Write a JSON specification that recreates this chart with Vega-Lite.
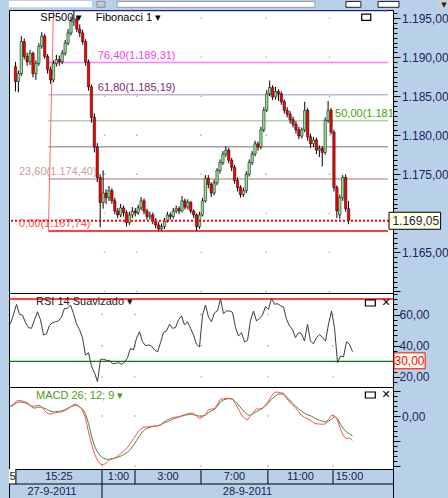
{
  "$schema": "https://vega.github.io/schema/vega-lite/v6.json",
  "background": "#b9d1e8",
  "padding": {"left": 7, "top": 0, "right": 0, "bottom": 0},
  "bounds": "flush",
  "spacing": 0,
  "resolve": {"scale": {"stroke": "independent", "fill": "independent"}},
  "config": {
    "view": {"stroke": "#000000", "strokeWidth": 1, "fill": "#ffffff"},
    "font": "Liberation Sans",
    "text": {"font": "Liberation Sans", "fontSize": 11}
  },
  "datasets": {
    "bars": [
      {"i":0,"o":1188.8,"h":1189.4,"l":1185.6,"c":1186.86,"rsi":54.1,"macd":0.40,"sig":0.37},
      {"i":1,"o":1186.9,"h":1188.3,"l":1185.5,"c":1187.9,"rsi":60.2,"macd":0.47,"sig":0.44},
      {"i":2,"o":1187.9,"h":1192.7,"l":1187.6,"c":1192.0,"rsi":66.6,"macd":0.60,"sig":0.52},
      {"i":3,"o":1192.0,"h":1192.4,"l":1189.7,"c":1190.1,"rsi":60.2,"macd":0.63,"sig":0.56},
      {"i":4,"o":1190.1,"h":1190.6,"l":1188.9,"c":1189.4,"rsi":59.7,"macd":0.60,"sig":0.55},
      {"i":5,"o":1189.4,"h":1190.9,"l":1189.0,"c":1190.5,"rsi":54.8,"macd":0.56,"sig":0.52},
      {"i":6,"o":1190.5,"h":1190.7,"l":1187.4,"c":1187.9,"rsi":51.6,"macd":0.49,"sig":0.47},
      {"i":7,"o":1187.9,"h":1189.6,"l":1187.1,"c":1189.2,"rsi":51.2,"macd":0.40,"sig":0.37},
      {"i":8,"o":1189.2,"h":1191.8,"l":1188.9,"c":1191.4,"rsi":56.7,"macd":0.39,"sig":0.31},
      {"i":9,"o":1191.4,"h":1193.2,"l":1191.1,"c":1192.7,"rsi":61.8,"macd":0.43,"sig":0.35},
      {"i":10,"o":1192.7,"h":1193.0,"l":1189.8,"c":1190.1,"rsi":56.7,"macd":0.40,"sig":0.36},
      {"i":11,"o":1190.1,"h":1190.4,"l":1187.9,"c":1188.4,"rsi":46.9,"macd":0.27,"sig":0.32},
      {"i":12,"o":1188.4,"h":1188.8,"l":1186.6,"c":1187.1,"rsi":47.7,"macd":0.13,"sig":0.27},
      {"i":13,"o":1187.1,"h":1189.6,"l":1186.8,"c":1189.2,"rsi":53.1,"macd":0.08,"sig":0.21},
      {"i":14,"o":1189.2,"h":1190.3,"l":1188.8,"c":1189.7,"rsi":54.8,"macd":0.09,"sig":0.17},
      {"i":15,"o":1189.7,"h":1190.2,"l":1188.9,"c":1189.4,"rsi":55.4,"macd":0.13,"sig":0.17},
      {"i":16,"o":1189.4,"h":1190.9,"l":1189.1,"c":1190.5,"rsi":55.9,"macd":0.15,"sig":0.19},
      {"i":17,"o":1190.5,"h":1192.2,"l":1190.2,"c":1191.8,"rsi":58.4,"macd":0.16,"sig":0.20},
      {"i":18,"o":1191.8,"h":1193.6,"l":1191.5,"c":1193.1,"rsi":64.0,"macd":0.21,"sig":0.24},
      {"i":19,"o":1193.1,"h":1195.2,"l":1192.8,"c":1194.6,"rsi":64.0,"macd":0.28,"sig":0.31},
      {"i":20,"o":1194.6,"h":1195.96,"l":1194.0,"c":1194.9,"rsi":66.1,"macd":0.35,"sig":0.37},
      {"i":21,"o":1194.9,"h":1195.3,"l":1193.2,"c":1193.6,"rsi":60.6,"macd":0.47,"sig":0.41},
      {"i":22,"o":1193.6,"h":1194.2,"l":1192.6,"c":1193.1,"rsi":54.1,"macd":0.47,"sig":0.43},
      {"i":23,"o":1193.1,"h":1193.5,"l":1191.6,"c":1192.0,"rsi":50.3,"macd":0.37,"sig":0.37},
      {"i":24,"o":1192.0,"h":1192.3,"l":1188.9,"c":1189.4,"rsi":45.2,"macd":0.24,"sig":0.28},
      {"i":25,"o":1189.4,"h":1189.7,"l":1185.7,"c":1186.2,"rsi":34.0,"macd":-0.08,"sig":0.09},
      {"i":26,"o":1186.2,"h":1186.5,"l":1181.6,"c":1182.3,"rsi":35.5,"macd":-0.64,"sig":-0.29},
      {"i":27,"o":1182.3,"h":1182.8,"l":1177.8,"c":1178.5,"rsi":26.8,"macd":-1.13,"sig":-0.80},
      {"i":28,"o":1178.5,"h":1179.0,"l":1174.0,"c":1174.6,"rsi":22.7,"macd":-1.51,"sig":-1.20},
      {"i":29,"o":1174.6,"h":1175.0,"l":1168.2,"c":1171.4,"rsi":16.9,"macd":-1.77,"sig":-1.44},
      {"i":30,"o":1171.4,"h":1175.5,"l":1170.6,"c":1172.6,"rsi":31.3,"macd":-1.93,"sig":-1.60},
      {"i":31,"o":1172.6,"h":1173.1,"l":1171.2,"c":1172.0,"rsi":31.3,"macd":-1.95,"sig":-1.69},
      {"i":32,"o":1172.0,"h":1173.5,"l":1171.6,"c":1172.9,"rsi":30.6,"macd":-1.87,"sig":-1.73},
      {"i":33,"o":1172.9,"h":1173.2,"l":1171.2,"c":1171.6,"rsi":30.6,"macd":-1.75,"sig":-1.73},
      {"i":34,"o":1171.6,"h":1172.0,"l":1169.9,"c":1170.3,"rsi":28.5,"macd":-1.71,"sig":-1.71},
      {"i":35,"o":1170.3,"h":1170.7,"l":1169.4,"c":1169.8,"rsi":28.7,"macd":-1.67,"sig":-1.68},
      {"i":36,"o":1169.8,"h":1171.2,"l":1169.5,"c":1170.7,"rsi":29.1,"macd":-1.57,"sig":-1.64},
      {"i":37,"o":1170.7,"h":1171.0,"l":1169.6,"c":1170.1,"rsi":28.1,"macd":-1.48,"sig":-1.59},
      {"i":38,"o":1170.1,"h":1170.4,"l":1168.3,"c":1168.8,"rsi":29.4,"macd":-1.37,"sig":-1.53},
      {"i":39,"o":1168.8,"h":1170.2,"l":1168.5,"c":1169.8,"rsi":32.3,"macd":-1.25,"sig":-1.45},
      {"i":40,"o":1169.8,"h":1170.8,"l":1169.4,"c":1170.3,"rsi":38.3,"macd":-1.09,"sig":-1.33},
      {"i":41,"o":1170.3,"h":1170.7,"l":1169.6,"c":1170.1,"rsi":37.3,"macd":-0.91,"sig":-1.17},
      {"i":42,"o":1170.1,"h":1171.1,"l":1169.8,"c":1170.7,"rsi":44.8,"macd":-0.73,"sig":-0.99},
      {"i":43,"o":1170.7,"h":1172.1,"l":1170.4,"c":1171.6,"rsi":49.0,"macd":-0.56,"sig":-0.80},
      {"i":44,"o":1171.6,"h":1171.9,"l":1169.9,"c":1170.3,"rsi":42.6,"macd":-0.47,"sig":-0.63},
      {"i":45,"o":1170.3,"h":1170.6,"l":1169.2,"c":1169.6,"rsi":40.0,"macd":-0.44,"sig":-0.53},
      {"i":46,"o":1169.6,"h":1170.2,"l":1169.2,"c":1169.8,"rsi":40.5,"macd":-0.43,"sig":-0.47},
      {"i":47,"o":1169.8,"h":1170.1,"l":1168.6,"c":1169.0,"rsi":39.8,"macd":-0.41,"sig":-0.43},
      {"i":48,"o":1169.0,"h":1169.4,"l":1168.1,"c":1168.5,"rsi":37.3,"macd":-0.41,"sig":-0.40},
      {"i":49,"o":1168.5,"h":1168.9,"l":1167.74,"c":1168.0,"rsi":36.0,"macd":-0.40,"sig":-0.39},
      {"i":50,"o":1168.0,"h":1168.7,"l":1167.8,"c":1168.3,"rsi":41.9,"macd":-0.35,"sig":-0.36},
      {"i":51,"o":1168.3,"h":1169.4,"l":1168.0,"c":1169.0,"rsi":48.6,"macd":-0.25,"sig":-0.29},
      {"i":52,"o":1169.0,"h":1170.2,"l":1168.8,"c":1169.8,"rsi":49.5,"macd":-0.17,"sig":-0.24},
      {"i":53,"o":1169.8,"h":1170.1,"l":1169.2,"c":1169.6,"rsi":53.8,"macd":-0.12,"sig":-0.19},
      {"i":54,"o":1169.6,"h":1170.7,"l":1169.3,"c":1170.3,"rsi":51.2,"macd":-0.07,"sig":-0.13},
      {"i":55,"o":1170.3,"h":1171.0,"l":1170.0,"c":1170.6,"rsi":51.6,"macd":-0.04,"sig":-0.09},
      {"i":56,"o":1170.6,"h":1170.9,"l":1169.9,"c":1170.3,"rsi":56.7,"macd":-0.03,"sig":-0.05},
      {"i":57,"o":1170.3,"h":1172.2,"l":1170.1,"c":1171.6,"rsi":59.1,"macd":0.01,"sig":-0.01},
      {"i":58,"o":1171.6,"h":1171.9,"l":1170.5,"c":1170.8,"rsi":53.3,"macd":0.05,"sig":0.03},
      {"i":59,"o":1170.8,"h":1171.8,"l":1170.5,"c":1171.4,"rsi":55.4,"macd":0.09,"sig":0.05},
      {"i":60,"o":1171.4,"h":1171.6,"l":1170.0,"c":1170.3,"rsi":51.2,"macd":0.12,"sig":0.07},
      {"i":61,"o":1170.3,"h":1170.5,"l":1169.4,"c":1169.8,"rsi":46.9,"macd":0.11,"sig":0.05},
      {"i":62,"o":1169.8,"h":1170.0,"l":1167.74,"c":1168.3,"rsi":40.9,"macd":0.01,"sig":0.03},
      {"i":63,"o":1168.3,"h":1170.2,"l":1168.0,"c":1169.8,"rsi":39.2,"macd":-0.11,"sig":-0.01},
      {"i":64,"o":1169.8,"h":1172.0,"l":1169.6,"c":1171.6,"rsi":59.7,"macd":-0.04,"sig":0.00},
      {"i":65,"o":1171.6,"h":1174.9,"l":1171.4,"c":1174.5,"rsi":66.1,"macd":0.07,"sig":0.04},
      {"i":66,"o":1174.5,"h":1174.9,"l":1173.2,"c":1173.7,"rsi":58.4,"macd":0.25,"sig":0.13},
      {"i":67,"o":1173.7,"h":1174.0,"l":1172.1,"c":1172.6,"rsi":55.4,"macd":0.28,"sig":0.21},
      {"i":68,"o":1172.6,"h":1174.3,"l":1172.3,"c":1173.9,"rsi":61.2,"macd":0.29,"sig":0.27},
      {"i":69,"o":1173.9,"h":1175.8,"l":1173.6,"c":1175.5,"rsi":62.3,"macd":0.47,"sig":0.40},
      {"i":70,"o":1175.5,"h":1176.9,"l":1175.1,"c":1176.5,"rsi":70.0,"macd":0.67,"sig":0.57},
      {"i":71,"o":1176.5,"h":1178.0,"l":1176.2,"c":1177.6,"rsi":60.6,"macd":0.69,"sig":0.64},
      {"i":72,"o":1177.6,"h":1178.6,"l":1177.2,"c":1178.1,"rsi":62.3,"macd":0.71,"sig":0.68},
      {"i":73,"o":1178.1,"h":1178.4,"l":1176.4,"c":1176.8,"rsi":62.3,"macd":0.71,"sig":0.69},
      {"i":74,"o":1176.8,"h":1177.1,"l":1175.4,"c":1175.9,"rsi":61.5,"macd":0.68,"sig":0.68},
      {"i":75,"o":1175.9,"h":1176.2,"l":1173.8,"c":1174.2,"rsi":51.6,"macd":0.49,"sig":0.57},
      {"i":76,"o":1174.2,"h":1174.6,"l":1172.8,"c":1173.3,"rsi":46.2,"macd":0.28,"sig":0.45},
      {"i":77,"o":1173.3,"h":1173.6,"l":1172.0,"c":1172.4,"rsi":48.4,"macd":0.04,"sig":0.29},
      {"i":78,"o":1172.4,"h":1173.3,"l":1172.1,"c":1172.9,"rsi":42.4,"macd":-0.09,"sig":0.16},
      {"i":79,"o":1172.9,"h":1175.4,"l":1172.6,"c":1175.0,"rsi":43.5,"macd":-0.16,"sig":0.05},
      {"i":80,"o":1175.0,"h":1176.9,"l":1174.7,"c":1176.5,"rsi":56.3,"macd":0.00,"sig":0.03},
      {"i":81,"o":1176.5,"h":1178.0,"l":1176.2,"c":1177.6,"rsi":62.3,"macd":0.16,"sig":0.11},
      {"i":82,"o":1177.6,"h":1179.3,"l":1177.3,"c":1178.9,"rsi":55.9,"macd":0.29,"sig":0.17},
      {"i":83,"o":1178.9,"h":1179.2,"l":1178.0,"c":1178.5,"rsi":57.6,"macd":0.28,"sig":0.24},
      {"i":84,"o":1178.5,"h":1181.1,"l":1178.2,"c":1180.7,"rsi":59.7,"macd":0.29,"sig":0.32},
      {"i":85,"o":1180.7,"h":1183.6,"l":1180.4,"c":1183.2,"rsi":65.1,"macd":0.44,"sig":0.40},
      {"i":86,"o":1183.2,"h":1185.8,"l":1183.0,"c":1185.3,"rsi":63.4,"macd":0.60,"sig":0.53},
      {"i":87,"o":1185.3,"h":1187.0,"l":1185.0,"c":1186.1,"rsi":70.4,"macd":0.80,"sig":0.67},
      {"i":88,"o":1186.1,"h":1186.4,"l":1184.5,"c":1184.9,"rsi":66.6,"macd":0.95,"sig":0.77},
      {"i":89,"o":1184.9,"h":1186.2,"l":1184.6,"c":1185.6,"rsi":67.0,"macd":0.96,"sig":0.87},
      {"i":90,"o":1185.6,"h":1185.9,"l":1184.4,"c":1185.3,"rsi":65.7,"macd":0.93,"sig":0.88},
      {"i":91,"o":1185.3,"h":1185.6,"l":1183.9,"c":1184.3,"rsi":64.9,"macd":0.91,"sig":0.87},
      {"i":92,"o":1184.3,"h":1184.6,"l":1182.8,"c":1183.2,"rsi":57.0,"macd":0.71,"sig":0.77},
      {"i":93,"o":1183.2,"h":1183.6,"l":1182.3,"c":1182.7,"rsi":52.7,"macd":0.56,"sig":0.64},
      {"i":94,"o":1182.7,"h":1183.1,"l":1181.5,"c":1182.0,"rsi":50.5,"macd":0.45,"sig":0.51},
      {"i":95,"o":1182.0,"h":1182.4,"l":1181.0,"c":1181.4,"rsi":45.2,"macd":0.33,"sig":0.40},
      {"i":96,"o":1181.4,"h":1181.8,"l":1180.2,"c":1180.7,"rsi":48.4,"macd":0.17,"sig":0.29},
      {"i":97,"o":1180.7,"h":1181.1,"l":1179.5,"c":1179.9,"rsi":47.7,"macd":0.03,"sig":0.19},
      {"i":98,"o":1179.9,"h":1181.0,"l":1179.6,"c":1180.7,"rsi":43.0,"macd":-0.05,"sig":0.11},
      {"i":99,"o":1180.7,"h":1184.3,"l":1180.4,"c":1183.2,"rsi":53.8,"macd":-0.11,"sig":0.05},
      {"i":100,"o":1183.2,"h":1183.5,"l":1179.3,"c":1179.8,"rsi":43.0,"macd":-0.17,"sig":0.01},
      {"i":101,"o":1179.8,"h":1180.2,"l":1178.4,"c":1178.9,"rsi":41.3,"macd":-0.27,"sig":-0.05},
      {"i":102,"o":1178.9,"h":1179.8,"l":1178.5,"c":1179.4,"rsi":45.2,"macd":-0.31,"sig":-0.12},
      {"i":103,"o":1179.4,"h":1179.7,"l":1177.6,"c":1178.1,"rsi":47.3,"macd":-0.32,"sig":-0.17},
      {"i":104,"o":1178.1,"h":1178.7,"l":1177.2,"c":1178.3,"rsi":45.2,"macd":-0.33,"sig":-0.21},
      {"i":105,"o":1178.3,"h":1178.6,"l":1176.0,"c":1177.8,"rsi":43.0,"macd":-0.32,"sig":-0.24},
      {"i":106,"o":1177.8,"h":1182.3,"l":1177.5,"c":1181.9,"rsi":53.8,"macd":-0.13,"sig":-0.21},
      {"i":107,"o":1181.9,"h":1184.4,"l":1181.6,"c":1183.2,"rsi":62.3,"macd":0.03,"sig":-0.13},
      {"i":108,"o":1183.2,"h":1183.5,"l":1180.1,"c":1180.4,"rsi":51.6,"macd":0.01,"sig":-0.03},
      {"i":109,"o":1180.4,"h":1180.7,"l":1172.8,"c":1173.3,"rsi":29.1,"macd":-0.17,"sig":-0.11},
      {"i":110,"o":1173.3,"h":1173.6,"l":1169.4,"c":1170.3,"rsi":33.4,"macd":-0.53,"sig":-0.33},
      {"i":111,"o":1169.8,"h":1172.4,"l":1169.3,"c":1172.0,"rsi":32.8,"macd":-0.80,"sig":-0.51},
      {"i":112,"o":1172.0,"h":1174.9,"l":1171.6,"c":1174.6,"rsi":42.6,"macd":-0.92,"sig":-0.64},
      {"i":113,"o":1174.6,"h":1175.0,"l":1170.2,"c":1170.6,"rsi":40.9,"macd":-0.87,"sig":-0.72},
      {"i":114,"o":1170.6,"h":1171.6,"l":1168.6,"c":1169.05,"rsi":36.2,"macd":-0.97,"sig":-0.80}
    ],
    "fib": [
      {"pct":100,"price":1195.96},
      {"pct":76.4,"price":1189.31},
      {"pct":61.8,"price":1185.19},
      {"pct":50,"price":1181.85},
      {"pct":38.2,"price":1178.52},
      {"pct":23.6,"price":1174.40},
      {"pct":0,"price":1167.74}
    ],
    "rsiLevels": [{"level":70},{"level":30}],
    "cells": [
      {"row":1,"t0":1.8,"t1":30.5,"label":"15:25"},
      {"row":1,"t0":30.5,"t1":41.5,"label":"1:00"},
      {"row":1,"t0":41.5,"t1":63.5,"label":"3:00"},
      {"row":1,"t0":63.5,"t1":85.8,"label":"7:00"},
      {"row":1,"t0":85.8,"t1":107.5,"label":"11:00"},
      {"row":1,"t0":107.5,"t1":118.5,"label":"15:00"},
      {"row":2,"t0":-2.8,"t1":30.5,"label":"27-9-2011"},
      {"row":2,"t0":30.5,"t1":127.5,"label":"28-9-2011"}
    ]
  },
  "vconcat": [
    {
      "width": 384,
      "height": 9,
      "view": {"fill": "transparent", "stroke": null},
      "layer": [
        {
          "data": {"values": [{}]},
          "mark": {"type": "rect", "fill": "#ffffff"},
          "encoding": {
            "x": {"datum": -0.5, "type": "quantitative", "scale": {"domain": [-0.5, 127.5], "nice": false, "zero": false}, "axis": null},
            "x2": {"datum": 27.17},
            "y": {"datum": 1, "type": "quantitative", "scale": {"domain": [0, 1], "nice": false, "zero": false}, "axis": null},
            "y2": {"datum": 0.3}
          }
        },
        {
          "data": {"values": [{}]},
          "mark": {"type": "rect", "fill": "#c8c8c8", "stroke": "#808080", "strokeWidth": 0.8},
          "encoding": {
            "x": {"datum": 28.8, "type": "quantitative", "scale": {"domain": [-0.5, 127.5], "nice": false, "zero": false}, "axis": null},
            "x2": {"datum": 31.5},
            "y": {"datum": 0.95, "type": "quantitative", "scale": {"domain": [0, 1], "nice": false, "zero": false}, "axis": null},
            "y2": {"datum": 0.3}
          }
        },
        {
          "data": {"values": [{}]},
          "mark": {"type": "rect", "fill": "#ffffff", "stroke": "#9a9a9a", "strokeWidth": 1},
          "encoding": {
            "x": {"datum": 35.5, "type": "quantitative", "scale": {"domain": [-0.5, 127.5], "nice": false, "zero": false}, "axis": null},
            "x2": {"datum": 101.5},
            "y": {"datum": 0.95, "type": "quantitative", "scale": {"domain": [0, 1], "nice": false, "zero": false}, "axis": null},
            "y2": {"datum": 0.3}
          }
        },
        {
          "data": {"values": [{}]},
          "mark": {"type": "rect", "fill": "#ffffff", "stroke": "#202020", "strokeWidth": 1},
          "encoding": {
            "x": {"datum": 111.8, "type": "quantitative", "scale": {"domain": [-0.5, 127.5], "nice": false, "zero": false}, "axis": null},
            "x2": {"datum": 116.8},
            "y": {"datum": 0.95, "type": "quantitative", "scale": {"domain": [0, 1], "nice": false, "zero": false}, "axis": null},
            "y2": {"datum": 0.3}
          }
        },
        {
          "data": {"values": [{}]},
          "mark": {"type": "rect", "fill": "#ffffff", "stroke": "#202020", "strokeWidth": 1},
          "encoding": {
            "x": {"datum": 122.5, "type": "quantitative", "scale": {"domain": [-0.5, 127.5], "nice": false, "zero": false}, "axis": null},
            "x2": {"datum": 129.5},
            "y": {"datum": 0.95, "type": "quantitative", "scale": {"domain": [0, 1], "nice": false, "zero": false}, "axis": null},
            "y2": {"datum": 0.3}
          }
        },
        {
          "data": {"values": [{}]},
          "mark": {"type": "rect", "fill": "#d0d0d0"},
          "encoding": {
            "x": {"datum": 142.6, "type": "quantitative", "scale": {"domain": [-0.5, 127.5], "nice": false, "zero": false}, "axis": null},
            "x2": {"datum": 146.5},
            "y": {"datum": 1, "type": "quantitative", "scale": {"domain": [0, 1], "nice": false, "zero": false}, "axis": null},
            "y2": {"datum": 0.2}
          }
        },
        {
          "data": {"values": [{}]},
          "mark": {"type": "text", "align": "center", "baseline": "middle", "font": "DejaVu Sans", "fontSize": 7, "fill": "#202020"},
          "encoding": {
            "x": {"datum": 144.5, "type": "quantitative", "scale": {"domain": [-0.5, 127.5], "nice": false, "zero": false}, "axis": null},
            "y": {"datum": 0.55, "type": "quantitative", "scale": {"domain": [0, 1], "nice": false, "zero": false}, "axis": null},
            "text": {"value": "▼"}
          }
        }
      ]
    },
    {
      "width": 384,
      "height": 283,
      "resolve": {"axis": {"y": "independent"}},
      "layer": [
        {
          "data": {"name": "cells"},
          "transform": [{"filter": "datum.row == 1 && datum.t0 > 20"}],
          "mark": {"type": "rule", "stroke": "#b4b4b4", "strokeWidth": 1.6, "strokeDash": [1.4, 37.65], "strokeDashOffset": 31.65},
          "encoding": {
            "x": {"field": "t0", "type": "quantitative", "scale": {"domain": [-0.5, 127.5], "nice": false, "zero": false}, "axis": null}
          }
        },
        {
          "data": {"name": "fib"},
          "mark": {"type": "rule", "strokeWidth": 1.4},
          "encoding": {
            "x": {"datum": 11.25, "type": "quantitative", "scale": {"domain": [-0.5, 127.5], "nice": false, "zero": false}, "axis": null},
            "x2": {"datum": 127.5},
            "y": {
              "field": "price", "type": "quantitative",
              "scale": {"domain": [1159.8, 1196.04], "nice": false, "zero": false},
              "axis": {
                "orient": "right", "title": null, "domain": false, "grid": false,
                "values": [1160, 1165, 1170, 1175, 1180, 1185, 1190, 1195],
                "tickColor": "#000000", "tickWidth": 1, "tickSize": 7,
                "labelPadding": 1.5, "labelOverlap": false, "labelFlush": false, "labelBound": false,
                "labelFont": "Liberation Sans", "labelFontSize": 12, "labelColor": "#222260",
                "labelExpr": "datum.value == 1160 || datum.value == 1170 ? '' : replace(replace(replace(format(datum.value, ',.2f'), ',', '_'), '.', ','), '_', '.')"
              }
            },
            "stroke": {
              "field": "pct", "type": "nominal",
              "scale": {"domain": [100, 76.4, 61.8, 50, 38.2, 23.6, 0], "range": ["#1c1ca0", "#ff80ff", "#c9b3d3", "#b3d1a9", "#a3a3a3", "#c9a0a0", "#ff0000"]},
              "legend": null
            }
          }
        },
        {
          "data": {"values": [{}]},
          "mark": {"type": "rule", "stroke": "#ff6a6a", "strokeWidth": 1},
          "encoding": {
            "x": {"datum": 13.0, "type": "quantitative", "scale": {"domain": [-0.5, 127.5], "nice": false, "zero": false}, "axis": null},
            "x2": {"datum": 11.25},
            "y": {"datum": 1195.96, "type": "quantitative", "scale": {"domain": [1159.8, 1196.04], "nice": false, "zero": false}, "axis": null},
            "y2": {"datum": 1167.74}
          }
        },
        {
          "data": {"name": "bars"},
          "mark": {"type": "rule", "stroke": "#000000", "strokeWidth": 1},
          "encoding": {
            "x": {"field": "i", "type": "quantitative", "scale": {"domain": [-0.5, 127.5], "nice": false, "zero": false}, "axis": null},
            "y": {
              "field": "l", "type": "quantitative",
              "scale": {"domain": [1159.8, 1196.04], "nice": false, "zero": false},
              "axis": {
                "orient": "right", "title": null, "domain": false, "grid": false, "labels": false,
                "values": [1160.625,1161.25,1161.875,1162.5,1163.125,1163.75,1164.375,1165.625,1166.25,1166.875,1167.5,1168.125,1168.75,1169.375,1170.625,1171.25,1171.875,1172.5,1173.125,1173.75,1174.375,1175.625,1176.25,1176.875,1177.5,1178.125,1178.75,1179.375,1180.625,1181.25,1181.875,1182.5,1183.125,1183.75,1184.375,1185.625,1186.25,1186.875,1187.5,1188.125,1188.75,1189.375,1190.625,1191.25,1191.875,1192.5,1193.125,1193.75,1194.375,1195.625],
                "tickColor": "#000000", "tickWidth": 1, "tickSize": 4
              }
            },
            "y2": {"field": "h"}
          }
        },
        {
          "data": {"name": "bars"},
          "mark": {"type": "bar", "size": 2.4, "stroke": "#000000", "strokeWidth": 0.5},
          "encoding": {
            "x": {"field": "i", "type": "quantitative", "scale": {"domain": [-0.5, 127.5], "nice": false, "zero": false}, "axis": null},
            "y": {"field": "o", "type": "quantitative", "scale": {"domain": [1159.8, 1196.04], "nice": false, "zero": false}, "axis": null},
            "y2": {"field": "c"},
            "fill": {"condition": {"test": "datum.c >= datum.o", "value": "#8fe38f"}, "value": "#ff0000"}
          }
        },
        {
          "data": {"name": "bars"},
          "transform": [{"filter": "datum.i == 114"}],
          "mark": {"type": "rule", "stroke": "#ff0000", "strokeWidth": 2, "strokeDash": [2, 2]},
          "encoding": {
            "y": {"field": "c", "type": "quantitative", "scale": {"domain": [1159.8, 1196.04], "nice": false, "zero": false}, "axis": null}
          }
        },
        {
          "data": {"name": "fib"},
          "transform": [
            {"filter": "datum.pct != 100 && datum.pct != 38.2"},
            {"calculate": "replace(format(datum.pct, '.2f'), '.', ',') + '(' + replace(replace(replace(format(datum.price, ',.2f'), ',', '_'), '.', ','), '_', '.') + ')'", "as": "txt"},
            {"calculate": "datum.pct > 60 ? 28.2 : (datum.pct == 50 ? 109.4 : 1.2)", "as": "lx"}
          ],
          "mark": {"type": "text", "align": "left", "baseline": "alphabetic", "dy": -4, "clip": true, "fontSize": 11},
          "encoding": {
            "x": {"field": "lx", "type": "quantitative", "scale": {"domain": [-0.5, 127.5], "nice": false, "zero": false}, "axis": null},
            "y": {"field": "price", "type": "quantitative", "scale": {"domain": [1159.8, 1196.04], "nice": false, "zero": false}, "axis": null},
            "text": {"field": "txt"},
            "fill": {
              "field": "pct", "type": "nominal",
              "scale": {"domain": [76.4, 61.8, 50, 23.6, 0], "range": ["#f040f0", "#7a2a7a", "#3f9f00", "#c4a0a0", "#ff4a4a"]},
              "legend": null
            }
          }
        },
        {
          "data": {"values": [{}]},
          "mark": {"type": "text", "align": "left", "baseline": "middle", "fontSize": 11, "fill": "#000000"},
          "encoding": {
            "x": {"datum": 8.5, "type": "quantitative", "scale": {"domain": [-0.5, 127.5], "nice": false, "zero": false}, "axis": null},
            "y": {"datum": 1194.97, "type": "quantitative", "scale": {"domain": [1159.8, 1196.04], "nice": false, "zero": false}, "axis": null},
            "text": {"value": "SP500  ▾"}
          }
        },
        {
          "data": {"values": [{}]},
          "mark": {"type": "text", "align": "left", "baseline": "middle", "fontSize": 11, "fill": "#000000"},
          "encoding": {
            "x": {"datum": 27.5, "type": "quantitative", "scale": {"domain": [-0.5, 127.5], "nice": false, "zero": false}, "axis": null},
            "y": {"datum": 1194.97, "type": "quantitative", "scale": {"domain": [1159.8, 1196.04], "nice": false, "zero": false}, "axis": null},
            "text": {"value": "Fibonacci 1 ▾"}
          }
        },
        {
          "data": {"values": [{}]},
          "mark": {"type": "rect", "fill": "#ffffff", "stroke": "#000000", "strokeWidth": 1.2},
          "encoding": {
            "x": {"datum": 118.5, "type": "quantitative", "scale": {"domain": [-0.5, 127.5], "nice": false, "zero": false}, "axis": null},
            "x2": {"datum": 121.6},
            "y": {"datum": 1195.5, "type": "quantitative", "scale": {"domain": [1159.8, 1196.04], "nice": false, "zero": false}, "axis": null},
            "y2": {"datum": 1194.72}
          }
        },
        {
          "data": {"name": "bars"},
          "transform": [
            {"filter": "datum.i == 114"},
            {"calculate": "datum.c + 1.09", "as": "bt"},
            {"calculate": "datum.c - 1.09", "as": "bb"}
          ],
          "mark": {"type": "rect", "fill": "#ffffe1", "stroke": "#000000", "strokeWidth": 1},
          "encoding": {
            "x": {"datum": 127.85, "type": "quantitative", "scale": {"domain": [-0.5, 127.5], "nice": false, "zero": false}, "axis": null},
            "x2": {"datum": 145.5},
            "y": {"field": "bt", "type": "quantitative", "scale": {"domain": [1159.8, 1196.04], "nice": false, "zero": false}, "axis": null},
            "y2": {"field": "bb"}
          }
        },
        {
          "data": {"name": "bars"},
          "transform": [
            {"filter": "datum.i == 114"},
            {"calculate": "replace(replace(replace(format(datum.c, ',.2f'), ',', '_'), '.', ','), '_', '.')", "as": "txt"}
          ],
          "mark": {"type": "text", "align": "left", "baseline": "middle", "fontSize": 12, "fill": "#222250"},
          "encoding": {
            "x": {"datum": 129.0, "type": "quantitative", "scale": {"domain": [-0.5, 127.5], "nice": false, "zero": false}, "axis": null},
            "y": {"field": "c", "type": "quantitative", "scale": {"domain": [1159.8, 1196.04], "nice": false, "zero": false}, "axis": null},
            "text": {"field": "txt"}
          }
        }
      ]
    },
    {
      "width": 384,
      "height": 94,
      "resolve": {"axis": {"y": "independent"}},
      "layer": [
        {
          "data": {"name": "cells"},
          "transform": [{"filter": "datum.row == 1 && datum.t0 > 20"}],
          "mark": {"type": "rule", "stroke": "#b4b4b4", "strokeWidth": 1.6, "strokeDash": [1.4, 29.75], "strokeDashOffset": 10.28},
          "encoding": {
            "x": {"field": "t0", "type": "quantitative", "scale": {"domain": [-0.5, 127.5], "nice": false, "zero": false}, "axis": null}
          }
        },
        {
          "data": {"name": "rsiLevels"},
          "mark": {"type": "rule", "strokeWidth": 1.3},
          "encoding": {
            "y": {
              "field": "level", "type": "quantitative",
              "scale": {"domain": [13.5, 73.85], "nice": false, "zero": false},
              "axis": {
                "orient": "right", "title": null, "domain": false, "grid": false, "labels": false,
                "values": [16.667,23.333,26.667,30,33.333,36.667,43.333,46.667,50,53.333,56.667,63.333,66.667,70,73.333],
                "tickColor": "#000000", "tickWidth": 1, "tickSize": 4
              }
            },
            "stroke": {"field": "level", "type": "nominal", "scale": {"domain": [70, 30], "range": ["#ff0000", "#008000"]}, "legend": null}
          }
        },
        {
          "data": {"name": "bars"},
          "mark": {"type": "line", "stroke": "#3c3c3c", "strokeWidth": 1},
          "encoding": {
            "x": {"field": "i", "type": "quantitative", "scale": {"domain": [-0.5, 127.5], "nice": false, "zero": false}, "axis": null},
            "y": {
              "field": "rsi", "type": "quantitative",
              "scale": {"domain": [13.5, 73.85], "nice": false, "zero": false},
              "axis": {
                "orient": "right", "title": null, "domain": false, "grid": false,
                "values": [20, 40, 60],
                "tickColor": "#000000", "tickWidth": 1, "tickSize": 7,
                "labelPadding": -1, "labelOverlap": false, "labelFlush": false, "labelBound": false,
                "labelFont": "Liberation Sans", "labelFontSize": 12, "labelColor": "#222260",
                "labelExpr": "replace(format(datum.value, '.2f'), '.', ',')"
              }
            }
          }
        },
        {
          "data": {"values": [{}]},
          "mark": {"type": "text", "align": "left", "baseline": "middle", "fontSize": 11, "fill": "#202020"},
          "encoding": {
            "x": {"datum": 8.5, "type": "quantitative", "scale": {"domain": [-0.5, 127.5], "nice": false, "zero": false}, "axis": null},
            "y": {"datum": 68.1, "type": "quantitative", "scale": {"domain": [13.5, 73.85], "nice": false, "zero": false}, "axis": null},
            "text": {"value": "RSI 14 Suavizado ▾"}
          }
        },
        {
          "data": {"values": [{}]},
          "mark": {"type": "rect", "fill": "#ffffff", "stroke": "#000000", "strokeWidth": 1.2},
          "encoding": {
            "x": {"datum": 118.3, "type": "quantitative", "scale": {"domain": [-0.5, 127.5], "nice": false, "zero": false}, "axis": null},
            "x2": {"datum": 121.6},
            "y": {"datum": 69.4, "type": "quantitative", "scale": {"domain": [13.5, 73.85], "nice": false, "zero": false}, "axis": null},
            "y2": {"datum": 65.5}
          }
        },
        {
          "data": {"values": [{}]},
          "mark": {"type": "text", "align": "center", "baseline": "middle", "font": "DejaVu Sans", "fontSize": 11, "fontWeight": "bold", "fill": "#000000"},
          "encoding": {
            "x": {"datum": 125.2, "type": "quantitative", "scale": {"domain": [-0.5, 127.5], "nice": false, "zero": false}, "axis": null},
            "y": {"datum": 67.4, "type": "quantitative", "scale": {"domain": [13.5, 73.85], "nice": false, "zero": false}, "axis": null},
            "text": {"value": "✕"}
          }
        },
        {
          "data": {"name": "rsiLevels"},
          "transform": [
            {"filter": "datum.level == 30"},
            {"calculate": "datum.level + 5.4", "as": "bt"},
            {"calculate": "datum.level - 4.8", "as": "bb"}
          ],
          "mark": {"type": "rect", "fill": "#fffff0", "stroke": "#ff0000", "strokeWidth": 1},
          "encoding": {
            "x": {"datum": 127.85, "type": "quantitative", "scale": {"domain": [-0.5, 127.5], "nice": false, "zero": false}, "axis": null},
            "x2": {"datum": 138.2},
            "y": {"field": "bt", "type": "quantitative", "scale": {"domain": [13.5, 73.85], "nice": false, "zero": false}, "axis": null},
            "y2": {"field": "bb"}
          }
        },
        {
          "data": {"name": "rsiLevels"},
          "transform": [
            {"filter": "datum.level == 30"},
            {"calculate": "replace(format(datum.level, '.2f'), '.', ',')", "as": "txt"}
          ],
          "mark": {"type": "text", "align": "center", "baseline": "middle", "fontSize": 12, "fill": "#ff0000"},
          "encoding": {
            "x": {"datum": 133.0, "type": "quantitative", "scale": {"domain": [-0.5, 127.5], "nice": false, "zero": false}, "axis": null},
            "y": {"field": "level", "type": "quantitative", "scale": {"domain": [13.5, 73.85], "nice": false, "zero": false}, "axis": null},
            "text": {"field": "txt"}
          }
        }
      ]
    },
    {
      "width": 384,
      "height": 82,
      "resolve": {"axis": {"y": "independent"}},
      "layer": [
        {
          "data": {"name": "cells"},
          "transform": [{"filter": "datum.row == 1 && datum.t0 > 20"}],
          "mark": {"type": "rule", "stroke": "#b4b4b4", "strokeWidth": 1.6, "strokeDash": [1.4, 48.6], "strokeDashOffset": 21.7},
          "encoding": {
            "x": {"field": "t0", "type": "quantitative", "scale": {"domain": [-0.5, 127.5], "nice": false, "zero": false}, "axis": null}
          }
        },
        {
          "data": {"name": "bars"},
          "mark": {"type": "line", "stroke": "#3d8b3d", "strokeWidth": 1},
          "encoding": {
            "x": {"field": "i", "type": "quantitative", "scale": {"domain": [-0.5, 127.5], "nice": false, "zero": false}, "axis": null},
            "y": {
              "field": "sig", "type": "quantitative",
              "scale": {"domain": [-2.12, 1.16], "nice": false, "zero": false},
              "axis": {
                "orient": "right", "title": null, "domain": false, "grid": false,
                "values": [1, 0, -1, -2],
                "tickColor": "#000000", "tickWidth": 1, "tickSize": 7,
                "labelPadding": 1.5, "labelOverlap": false, "labelFlush": false, "labelBound": false,
                "labelFont": "Liberation Sans", "labelFontSize": 12, "labelColor": "#222260",
                "labelExpr": "datum.value == 0 ? '0,00' : ''"
              }
            }
          }
        },
        {
          "data": {"name": "bars"},
          "mark": {"type": "line", "stroke": "#ff4d4d", "strokeWidth": 1},
          "encoding": {
            "x": {"field": "i", "type": "quantitative", "scale": {"domain": [-0.5, 127.5], "nice": false, "zero": false}, "axis": null},
            "y": {
              "field": "macd", "type": "quantitative",
              "scale": {"domain": [-2.12, 1.16], "nice": false, "zero": false},
              "axis": {
                "orient": "right", "title": null, "domain": false, "grid": false, "labels": false,
                "values": [0.8,0.6,0.4,0.2,-0.2,-0.4,-0.6,-0.8,-1.2,-1.4,-1.6,-1.8],
                "tickColor": "#000000", "tickWidth": 1, "tickSize": 4
              }
            }
          }
        },
        {
          "data": {"values": [{}]},
          "mark": {"type": "text", "align": "left", "baseline": "middle", "fontSize": 11, "fill": "#4a9a1a"},
          "encoding": {
            "x": {"datum": 8.5, "type": "quantitative", "scale": {"domain": [-0.5, 127.5], "nice": false, "zero": false}, "axis": null},
            "y": {"datum": 0.8, "type": "quantitative", "scale": {"domain": [-2.12, 1.16], "nice": false, "zero": false}, "axis": null},
            "text": {"value": "MACD 26; 12; 9 ▾"}
          }
        },
        {
          "data": {"values": [{}]},
          "mark": {"type": "rect", "fill": "#ffffff", "stroke": "#000000", "strokeWidth": 1.2},
          "encoding": {
            "x": {"datum": 118.3, "type": "quantitative", "scale": {"domain": [-0.5, 127.5], "nice": false, "zero": false}, "axis": null},
            "x2": {"datum": 121.6},
            "y": {"datum": 0.96, "type": "quantitative", "scale": {"domain": [-2.12, 1.16], "nice": false, "zero": false}, "axis": null},
            "y2": {"datum": 0.72}
          }
        },
        {
          "data": {"values": [{}]},
          "mark": {"type": "text", "align": "center", "baseline": "middle", "font": "DejaVu Sans", "fontSize": 11, "fontWeight": "bold", "fill": "#000000"},
          "encoding": {
            "x": {"datum": 125.2, "type": "quantitative", "scale": {"domain": [-0.5, 127.5], "nice": false, "zero": false}, "axis": null},
            "y": {"datum": 0.84, "type": "quantitative", "scale": {"domain": [-2.12, 1.16], "nice": false, "zero": false}, "axis": null},
            "text": {"value": "✕"}
          }
        }
      ]
    },
    {
      "width": 384,
      "height": 30,
      "view": {"fill": "transparent", "stroke": "#000000"},
      "layer": [
        {
          "data": {"values": [{}]},
          "mark": {"type": "rect", "fill": "#ffffe1"},
          "encoding": {
            "x": {"datum": -0.5, "type": "quantitative", "scale": {"domain": [-0.5, 127.5], "nice": false, "zero": false}, "axis": null},
            "x2": {"datum": 1.8},
            "y": {"datum": 1, "type": "quantitative", "scale": {"domain": [0, 2], "nice": false, "zero": false}, "axis": null},
            "y2": {"datum": 2}
          }
        },
        {
          "data": {"values": [{}]},
          "mark": {"type": "text", "align": "left", "baseline": "middle", "fontSize": 11, "fill": "#1a1a50"},
          "encoding": {
            "x": {"datum": -0.3, "type": "quantitative", "scale": {"domain": [-0.5, 127.5], "nice": false, "zero": false}, "axis": null},
            "y": {"datum": 1.5, "type": "quantitative", "scale": {"domain": [0, 2], "nice": false, "zero": false}, "axis": null},
            "text": {"value": "5"}
          }
        },
        {
          "data": {"name": "cells"},
          "transform": [{"filter": "datum.row == 1"}],
          "mark": {"type": "rule", "stroke": "#000000", "strokeWidth": 1},
          "encoding": {
            "x": {"field": "t0", "type": "quantitative", "scale": {"domain": [-0.5, 127.5], "nice": false, "zero": false}, "axis": null},
            "y": {"datum": 1, "type": "quantitative", "scale": {"domain": [0, 2], "nice": false, "zero": false}, "axis": null},
            "y2": {"datum": 2}
          }
        },
        {
          "data": {"name": "cells"},
          "transform": [{"filter": "datum.row == 2 && datum.t0 > 0"}],
          "mark": {"type": "rule", "stroke": "#000000", "strokeWidth": 1},
          "encoding": {
            "x": {"field": "t0", "type": "quantitative", "scale": {"domain": [-0.5, 127.5], "nice": false, "zero": false}, "axis": null},
            "y": {"datum": 0, "type": "quantitative", "scale": {"domain": [0, 2], "nice": false, "zero": false}, "axis": null},
            "y2": {"datum": 1}
          }
        },
        {
          "data": {"values": [{}]},
          "mark": {"type": "rule", "stroke": "#000000", "strokeWidth": 1},
          "encoding": {
            "y": {"datum": 1, "type": "quantitative", "scale": {"domain": [0, 2], "nice": false, "zero": false}, "axis": null}
          }
        },
        {
          "data": {"name": "cells"},
          "transform": [
            {"calculate": "(datum.t0 + datum.t1) / 2", "as": "mid"},
            {"calculate": "datum.row == 1 ? 1.5 : 0.5", "as": "yc"}
          ],
          "mark": {"type": "text", "align": "center", "baseline": "middle", "fontSize": 11, "fill": "#1a1a50"},
          "encoding": {
            "x": {"field": "mid", "type": "quantitative", "scale": {"domain": [-0.5, 127.5], "nice": false, "zero": false}, "axis": null},
            "y": {"field": "yc", "type": "quantitative", "scale": {"domain": [0, 2], "nice": false, "zero": false}, "axis": null},
            "text": {"field": "label"}
          }
        }
      ]
    }
  ]
}
